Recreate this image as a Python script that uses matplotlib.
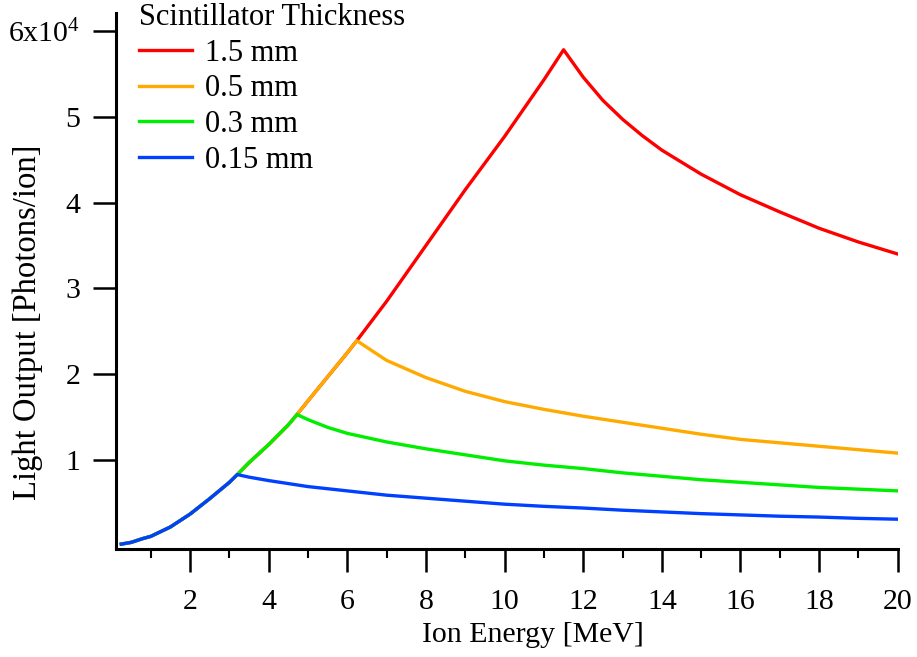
import numpy as np
import matplotlib.pyplot as plt
from matplotlib.ticker import FixedLocator

plt.rcParams['font.family'] = ['Liberation Serif', 'DejaVu Serif']
plt.rcParams['mathtext.default'] = 'regular'

# shared rising part (energy in MeV, light output in 1e4 photons/ion)
rise_e = [0.25, 0.5, 0.8, 1.0, 1.5, 2.0, 2.5, 3.0, 3.2, 3.5, 4.0, 4.5, 4.72,
          5.0, 5.5, 6.0, 6.24, 7.0, 8.0, 9.0, 10.0, 11.0, 11.5]
rise_y = [0.02, 0.04, 0.085, 0.11, 0.22, 0.37, 0.55, 0.74, 0.83, 0.97, 1.18, 1.41, 1.53,
          1.69, 1.97, 2.25, 2.39, 2.85, 3.50, 4.15, 4.77, 5.43, 5.78]

# falling tails after each peak
tail15_e = [12, 12.5, 13, 13.5, 14, 15, 16, 17, 18, 19, 20]
tail15_y = [5.46, 5.19, 4.97, 4.78, 4.61, 4.33, 4.09, 3.89, 3.70, 3.54, 3.40]

tail05_e = [7, 8, 9, 10, 11, 12, 13, 14, 15, 16, 17, 18, 19, 20]
tail05_y = [2.16, 1.96, 1.80, 1.68, 1.59, 1.51, 1.44, 1.37, 1.30, 1.24, 1.20, 1.16, 1.12, 1.08]

tail03_e = [5, 5.5, 6, 7, 8, 9, 10, 11, 12, 13, 14, 15, 16, 17, 18, 19, 20]
tail03_y = [1.47, 1.38, 1.31, 1.21, 1.13, 1.06, 0.99, 0.94, 0.90, 0.85, 0.81, 0.77, 0.74,
            0.71, 0.68, 0.66, 0.64]

tail015_e = [3.5, 4, 5, 6, 7, 8, 9, 10, 11, 12, 13, 14, 15, 16, 17, 18, 19, 20]
tail015_y = [0.80, 0.76, 0.69, 0.64, 0.59, 0.555, 0.52, 0.485, 0.46, 0.44, 0.415, 0.395,
             0.375, 0.36, 0.345, 0.335, 0.32, 0.31]

labels = ['1.5 mm', '0.5 mm', '0.3 mm', '0.15 mm']
colors = ['#ff0000', '#ffaa00', '#00ee00', '#0040ff']
peaks = [11.5, 6.24, 4.72, 3.2]
tails = [(tail15_e, tail15_y), (tail05_e, tail05_y), (tail03_e, tail03_y), (tail015_e, tail015_y)]

fig = plt.figure(figsize=(9.17, 6.57), dpi=100)
ax = fig.add_axes([0.1263, 0.1644, 0.9790 - 0.1263, 0.9798 - 0.1644])

re = np.array(rise_e)
ry = np.array(rise_y)
for lab, col, pk, (te, ty) in zip(labels, colors, peaks, tails):
    m = re <= pk + 1e-9
    x = np.concatenate([re[m], te])
    y = np.concatenate([ry[m], ty])
    ax.plot(x, y, color=col, lw=2.4, label=lab)

ax.set_xlim(0.11, 20)
ax.set_ylim(-0.037, 6.205)

for s in ['top', 'right']:
    ax.spines[s].set_visible(False)
for s in ['left', 'bottom']:
    ax.spines[s].set_linewidth(2.2)

ax.set_xticks(np.arange(2, 21, 2))
ax.xaxis.set_minor_locator(FixedLocator(np.arange(1, 20, 2)))
ax.set_yticks([1, 2, 3, 4, 5, 6])
ax.set_yticklabels(['1', '2', '3', '4', '5', '6x10$^{4}$'])
ax.tick_params(which='major', direction='out', length=16.5, width=1.8, labelsize=21.5)
ax.tick_params(axis='x', which='major', pad=12)
ax.tick_params(axis='y', which='major', pad=9)
ax.tick_params(which='minor', direction='out', length=6.5, width=1.5)

fig.text(533 / 917, 1 - 635 / 657, 'Ion Energy [MeV]', fontsize=21.5, ha='center', va='center')
fig.text(28 / 917, 1 - 322 / 657, 'Light Output [Photons/ion]', fontsize=23.5,
         ha='center', va='center', rotation=90)

leg = ax.legend(loc='upper left', bbox_to_anchor=(139 / 917, 1 - 3 / 657),
                bbox_transform=fig.transFigure, frameon=False, fontsize=22,
                title='Scintillator Thickness', title_fontsize=22,
                handlelength=1.75, handletextpad=0.42, labelspacing=0.22,
                borderpad=0, borderaxespad=0, alignment='left')

fig.savefig('out.png', dpi=100)
